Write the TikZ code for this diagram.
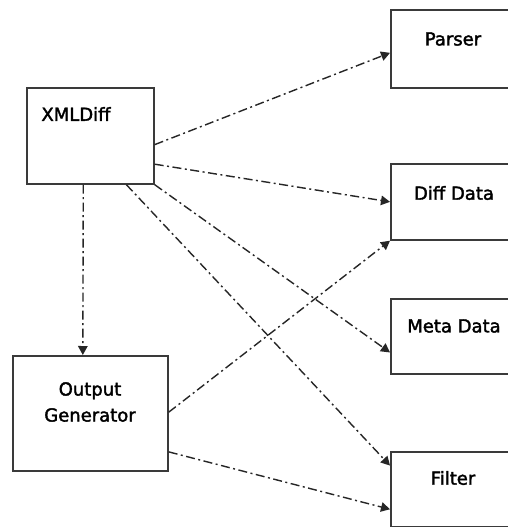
\documentclass[tikz,border=0pt]{standalone}
\usepackage{fontspec}
\setmainfont{DejaVu Sans}
\newfontfamily\lblfont{DejaVu Sans}[FakeBold=2]
\usetikzlibrary{arrows.meta,calc}
\definecolor{boxline}{HTML}{3A3A3A}
\begin{document}
\begin{tikzpicture}[x=1pt,y=-1pt,
  box/.style={draw=boxline,line width=1.7pt,fill=white,anchor=north west,inner sep=0pt,minimum width=126pt,minimum height=76pt},
  lbl/.style={font=\lblfont\fontsize{18}{22}\selectfont,inner sep=0pt,align=center},
  conn/.style={draw=black!85,line width=1.4pt,dash pattern=on 9pt off 3.5pt on 2pt off 3.5pt,-{Triangle[length=9pt,width=9.5pt]}}]
\useasboundingbox (0,0) rectangle (508,527);
\clip (0,0) rectangle (508,527);
\fill[white] (0,0) rectangle (508,527);
% boxes
\node[box,minimum width=127pt,minimum height=96pt] (xml) at (26,87) {};
\node[lbl] (xmlt) at (76,114) {XMLDiff};
\node[box,minimum width=155pt,minimum height=115pt] (out) at (12,355) {};
\node[lbl] (outt) at (90,402) {Output\\[4pt]Generator};
\node[box,minimum height=78pt] (parser) at (390,9) {};
\node[lbl] (parsert) at (453,39) {Parser};
\node[box] (diff) at (390,163) {};
\node[lbl] (difft) at (454,193) {Diff Data};
\node[box,minimum height=75pt] (meta) at (390,298) {};
\node[lbl] (metat) at (454,326) {Meta Data};
\node[box,minimum height=75pt] (filter) at (390,451) {};
\node[lbl] (filtert) at (453,478) {Filter};
% connectors
\draw[conn] ($(xml.north east)!0.59!(xml.south east)$) -- ($(parser.north west)!0.55!(parser.south west)$);
\draw[conn] ($(xml.north east)!0.79!(xml.south east)$) -- ($(diff.north west)!0.5!(diff.south west)$);
\draw[conn] (xml.south east) -- ($(meta.north west)!0.71!(meta.south west)$);
\draw[conn] ($(xml.south west)!0.78!(xml.south east)$) -- ($(filter.north west)!0.19!(filter.south west)$);
\draw[conn] ($(xml.south west)!0.445!(xml.south east)$) -- ($(out.north west)!0.452!(out.north east)$);
\draw[conn] ($(out.north east)!0.49!(out.south east)$) -- (diff.south west);
\draw[conn] ($(out.north east)!0.83!(out.south east)$) -- ($(filter.north west)!0.76!(filter.south west)$);
\end{tikzpicture}
\end{document}
